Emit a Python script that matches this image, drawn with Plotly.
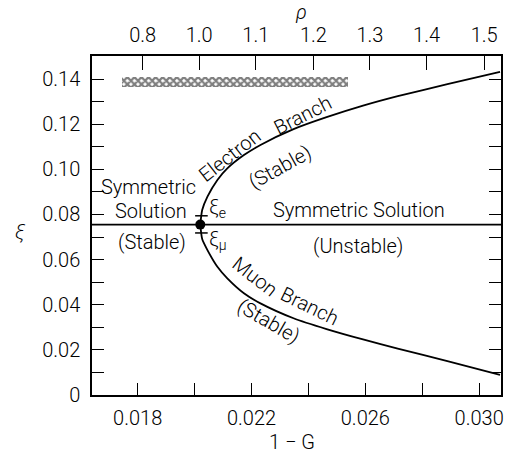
import numpy as np
import plotly.graph_objects as go

# Bifurcation point and symmetric solution level
x_bif = 0.0202
xi_sym = 0.0755

# Electron branch (1-G, xi)
e_x = [0.0202, 0.020267, 0.020452, 0.020801, 0.021150, 0.021733, 0.022315,
       0.023477, 0.024638, 0.025919, 0.027139, 0.028884, 0.030733]
e_xi = [0.0755, 0.0820, 0.0879, 0.0953, 0.1004, 0.1063, 0.1108,
        0.1178, 0.1231, 0.1282, 0.1324, 0.1377, 0.1432]

# Muon branch (1-G, xi)
m_x = [0.0202, 0.020267, 0.020452, 0.020801, 0.021150, 0.021733, 0.022315,
       0.023477, 0.024638, 0.025919, 0.027139, 0.028884, 0.030733]
m_xi = [0.0755, 0.0691, 0.0642, 0.0568, 0.0517, 0.0451, 0.0406,
        0.0340, 0.0292, 0.0246, 0.0206, 0.0150, 0.0089]

# Marked values on the branches
xi_e = 0.0794
xi_mu = 0.0718

# Allowed band (hatched)
band_x0 = 0.01744
band_x1 = 0.02540
band_xi = 0.1388
band_h = 0.0044

# Axis ticks
x_range = [0.016395, 0.030767]
y_range = [0.0, 0.1502]
x_ticks = [0.018, 0.022, 0.026, 0.030]
x_labels = ["0.018", "0.022", "0.026", "0.030"]
x_minor = [0.018, 0.020, 0.022, 0.024, 0.026, 0.028, 0.030]
y_ticks = [0.00, 0.02, 0.04, 0.06, 0.08, 0.10, 0.12, 0.14]
y_labels = ["0", "0.02", "0.04", "0.06", "0.08", "0.10", "0.12", "0.14"]
y_minor = [0.00, 0.01, 0.02, 0.03, 0.04, 0.05, 0.06, 0.07,
           0.08, 0.09, 0.10, 0.11, 0.12, 0.13, 0.14]
rho_pos = [0.018174, 0.020163, 0.022151, 0.024174, 0.026163, 0.028151, 0.030174]
rho_labels = ["0.8", "1.0", "1.1", "1.2", "1.3", "1.4", "1.5"]

FONT = "Roboto"
fs = 20
line = dict(color="black", width=1.8)

fig = go.Figure()

# hatched band
fig.add_trace(go.Bar(
    x=[band_x1 - band_x0], base=[band_x0], y=[band_xi], width=[band_h],
    orientation="h",
    marker=dict(color="white", line=dict(width=0),
                pattern=dict(shape="x", fgcolor="black", bgcolor="white",
                             size=5, solidity=0.7)),
    showlegend=False, hoverinfo="skip"))

# symmetric solution
fig.add_trace(go.Scatter(x=x_range, y=[xi_sym, xi_sym], mode="lines",
                         line=line, showlegend=False))
# branches
fig.add_trace(go.Scatter(x=e_x, y=e_xi, mode="lines", line_shape="spline",
                         line=dict(color="black", width=1.8, smoothing=0.6),
                         showlegend=False))
fig.add_trace(go.Scatter(x=m_x, y=m_xi, mode="lines", line_shape="spline",
                         line=dict(color="black", width=1.8, smoothing=0.6),
                         showlegend=False))

# short marks on the branches at xi_e and xi_mu
mark_x = [float(np.interp(xi_e, e_xi, e_x)),
          float(np.interp(xi_mu, m_xi[::-1], m_x[::-1]))]
fig.add_trace(go.Scatter(x=mark_x, y=[xi_e, xi_mu], mode="markers",
                         marker=dict(symbol="line-ew", size=9,
                                     line=dict(color="black", width=1.5)),
                         showlegend=False))
# bifurcation point
fig.add_trace(go.Scatter(x=[x_bif], y=[xi_sym], mode="markers",
                         marker=dict(color="black", size=10),
                         showlegend=False))
# top axis carrier
fig.add_trace(go.Scatter(x=rho_pos, y=[None] * len(rho_pos), xaxis="x2",
                         mode="markers", showlegend=False, hoverinfo="skip"))

axis_common = dict(showgrid=False, zeroline=False, showline=True,
                   linecolor="black", linewidth=1.5, ticks="inside",
                   tickcolor="black", tickwidth=1.2,
                   tickfont=dict(family=FONT, size=fs, color="black", weight=300))

fig.update_layout(
    width=512, height=457,
    margin=dict(l=92, r=8, t=56, b=62),
    paper_bgcolor="white", plot_bgcolor="white",
    font=dict(family=FONT, size=fs, color="black", weight=300),
    xaxis=dict(range=x_range, tickvals=x_ticks, ticktext=x_labels,
               ticklen=12, ticklabelstandoff=4,
               minor=dict(tickvals=x_minor, ticks="inside", ticklen=12,
                          tickcolor="black", tickwidth=1.2, showgrid=False),
               **axis_common),
    xaxis2=dict(range=x_range, overlaying="x", side="top",
                tickvals=rho_pos, ticktext=rho_labels, ticklen=14,
                ticklabelstandoff=4, **axis_common),
    yaxis=dict(range=y_range, tickvals=y_ticks, ticktext=y_labels,
               ticklen=12, mirror="ticks", ticklabelstandoff=6,
               minor=dict(tickvals=y_minor, ticks="inside", ticklen=12,
                          tickcolor="black", tickwidth=1.2, showgrid=False),
               **axis_common),
    bargap=0,
)

def label(text, x, y, angle=0, xref="x", yref="y"):
    fig.add_annotation(text=text, x=x, y=y, xref=xref, yref=yref,
                       showarrow=False, textangle=angle,
                       xanchor="center", yanchor="middle",
                       font=dict(family=FONT, size=fs, color="black", weight=300))

label("Electron", 0.021250, 0.1062, -38)
label("Branch", 0.023800, 0.1240, -27)
label("(Stable)", 0.023000, 0.1010, -29)
label("Muon", 0.022150, 0.0525, 38)
label("Branch", 0.024050, 0.0395, 26)
label("(Stable)", 0.022605, 0.0330, 30)
label("Symmetric Solution", 0.025779, 0.0820)
label("(Unstable)", 0.025744, 0.0660)
label("Symmetric", 0.018384, 0.0922)
label("Solution", 0.018453, 0.0815)
label("(Stable)", 0.018488, 0.0678)
label("ξ<sub>e</sub>", 0.020791, 0.0829)
label("ξ<sub>μ</sub>", 0.020826, 0.0687)
label("<i>ξ</i>", -0.175, 0.481, xref="paper", yref="paper")
label("1 − G", 0.488, -0.140, xref="paper", yref="paper")
label("<i>ρ</i>", 0.510, 1.13, xref="paper", yref="paper")

fig.write_html("out.html")
